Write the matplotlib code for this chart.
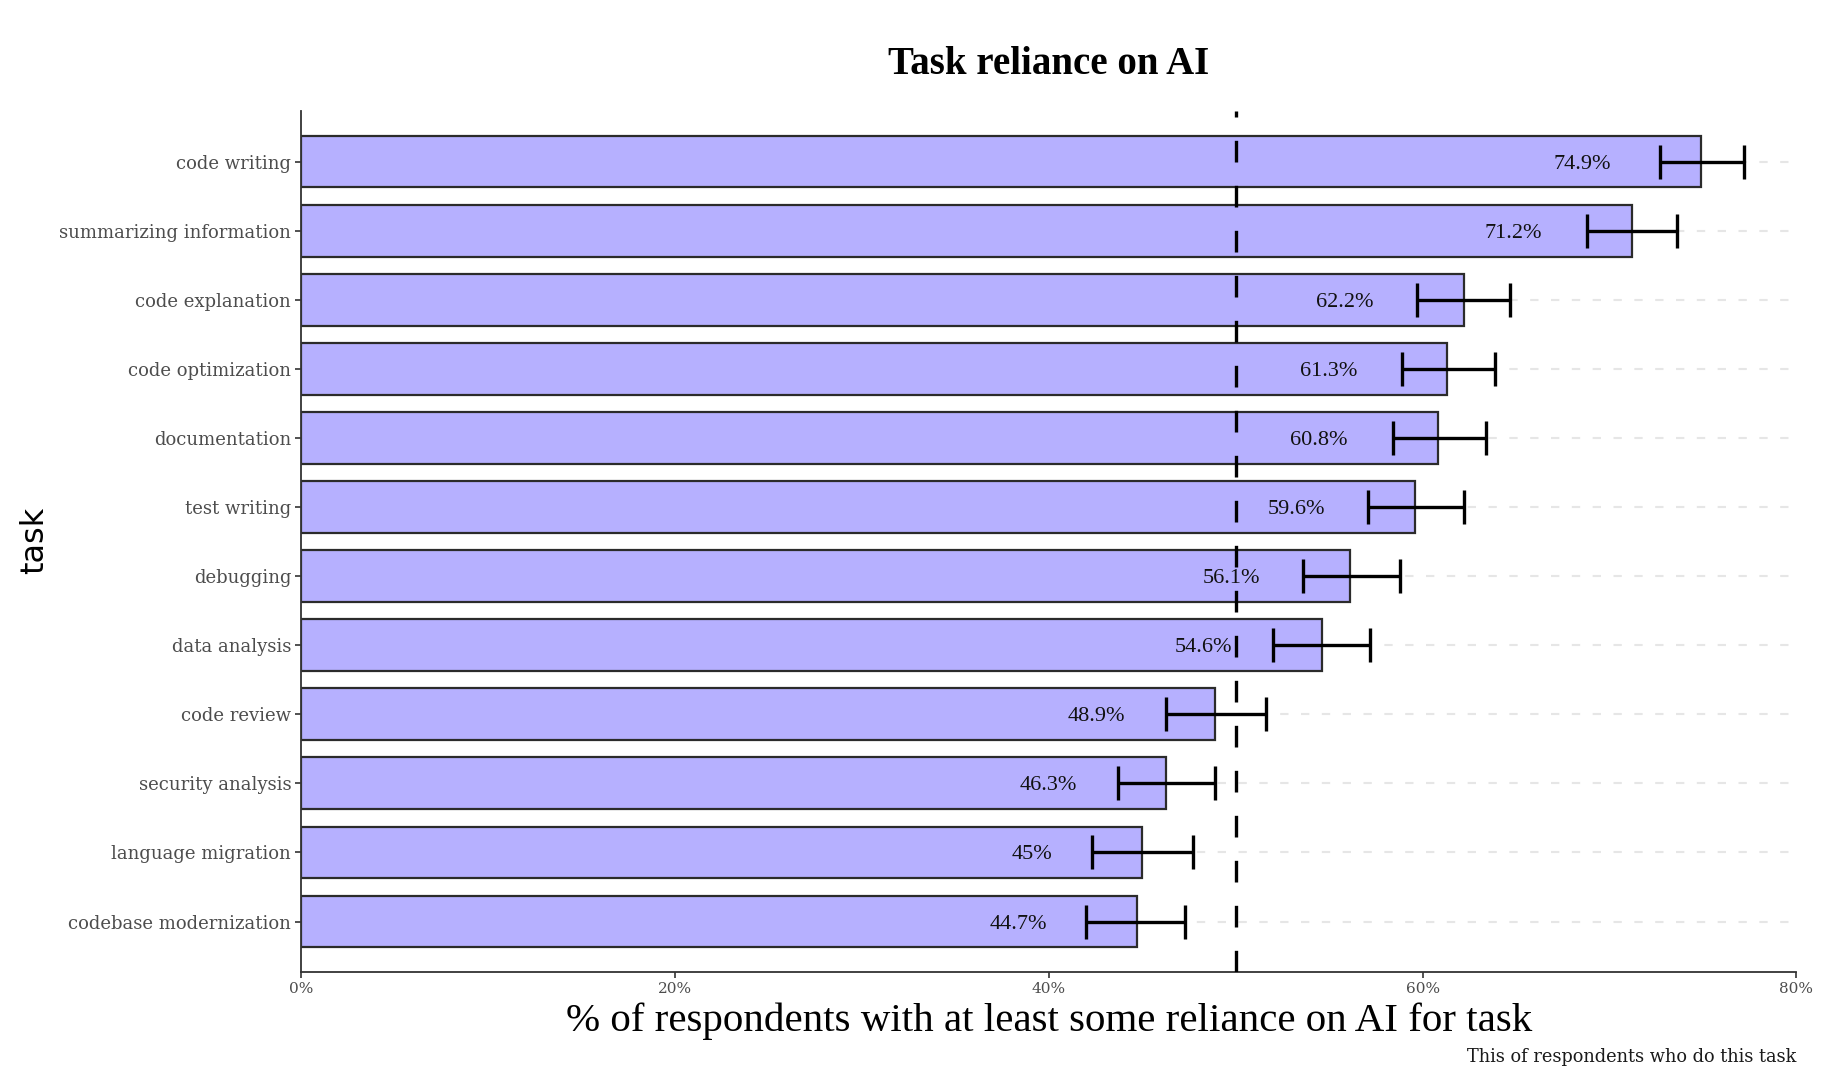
import matplotlib
matplotlib.use("Agg")
import matplotlib.pyplot as plt
import matplotlib.ticker as ticker

# Data
tasks = ["code writing", "summarizing information", "code explanation",
         "code optimization", "documentation", "test writing", "debugging",
         "data analysis", "code review", "security analysis",
         "language migration", "codebase modernization"]
values = [74.9, 71.2, 62.2, 61.3, 60.8, 59.6, 56.1, 54.6, 48.9, 46.3, 45.0, 44.7]
lower = [72.7, 68.8, 59.7, 58.9, 58.4, 57.1, 53.6, 52.0, 46.3, 43.7, 42.3, 42.0]
upper = [77.2, 73.6, 64.7, 63.9, 63.4, 62.2, 58.8, 57.2, 51.6, 48.9, 47.7, 47.3]
value_labels = ["74.9%", "71.2%", "62.2%", "61.3%", "60.8%", "59.6%", "56.1%",
                "54.6%", "48.9%", "46.3%", "45%", "44.7%"]
x_ticks = [0, 20, 40, 60, 80]
threshold = 50

fig = plt.figure(figsize=(18.35, 10.74), dpi=100)
ax = fig.add_axes([0.164, 0.095, 0.815, 0.8015])

ypos = list(range(len(tasks)))

# Background dashed grid lines at each category
for y in ypos:
    ax.axhline(y, color='#e6e6e6', lw=1.5, ls=(0, (4, 6)), zorder=0)

ax.barh(ypos, values, height=0.75, color='#b6b0ff', edgecolor='#2b2b2b',
        linewidth=1.6, zorder=2)

# Threshold line
ax.axvline(threshold, color='black', lw=2.4, ls=(0, (6.5, 7)), zorder=3)

# Value labels
for y, v, lab in zip(ypos, values, value_labels):
    ax.text(v - 4.8, y, lab, ha='right', va='center_baseline', fontsize=16,
            family='Liberation Serif', color='#111111', zorder=4)

# Error bars
xerr = [[v - lo for v, lo in zip(values, lower)],
        [hi - v for v, hi in zip(values, upper)]]
ax.errorbar(values, ypos, xerr=xerr, fmt='none', ecolor='black',
            elinewidth=2.4, capsize=12, capthick=2.4, zorder=5)

ax.set_xlim(0, 80)
ax.set_ylim(len(tasks) - 1 + 0.73, -0.73)
ax.set_yticks(ypos)
ax.set_yticklabels(tasks, family='DejaVu Serif', fontsize=13, color='#4d4d4d')
ax.set_xticks(x_ticks)
ax.xaxis.set_major_formatter(ticker.StrMethodFormatter('{x:.0f}%'))
for lab in ax.get_xticklabels():
    lab.set_family('DejaVu Serif')
    lab.set_fontsize(11)
    lab.set_color('#4d4d4d')
ax.tick_params(axis='both', length=4, width=1.2, colors='#333333', pad=3)
ax.tick_params(axis='x', labelcolor='#4d4d4d')
ax.tick_params(axis='y', labelcolor='#4d4d4d')

for side in ['top', 'right']:
    ax.spines[side].set_visible(False)
for side in ['left', 'bottom']:
    ax.spines[side].set_color('#333333')
    ax.spines[side].set_linewidth(1.3)

# Titles and labels
fig.text(0.5715, 0.94, "Task reliance on AI", ha='center', va='center',
         family='Liberation Serif', weight='bold', fontsize=28)
fig.text(0.5715, 0.049, "% of respondents with at least some reliance on AI for task",
         ha='center', va='center', family='Liberation Serif', fontsize=29.5)
fig.text(0.019, 0.497, "task", rotation=90, ha='center', va='center',
         family='DejaVu Sans', fontsize=23)
fig.text(0.979, 0.016, "This of respondents who do this task", ha='right',
         va='center', family='DejaVu Serif', fontsize=12.8, color='#1a1a1a')

plt.savefig("out.png", dpi=100)
